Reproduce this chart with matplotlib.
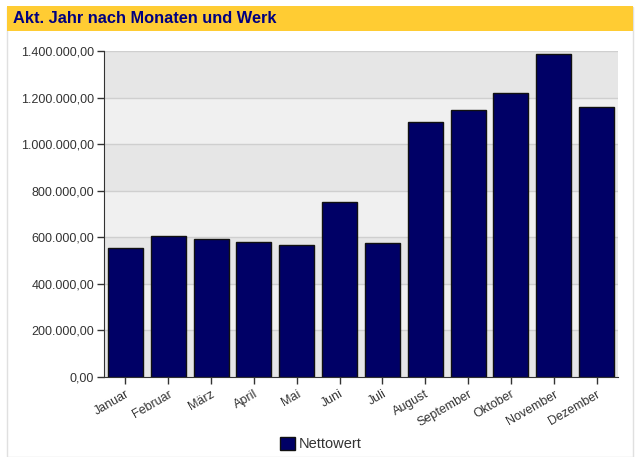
import matplotlib
matplotlib.use("Agg")
import matplotlib.pyplot as plt
import matplotlib.patches as mpatches
from matplotlib.ticker import FuncFormatter

months = ["Januar", "Februar", "März", "April", "Mai", "Juni", "Juli",
          "August", "September", "Oktober", "November", "Dezember"]
nettowert = [555300, 605500, 591300, 581000, 565600, 751500, 574200,
             1096400, 1146600, 1220900, 1385800, 1160800]
yticks = [0, 200000, 400000, 600000, 800000, 1000000, 1200000, 1400000]
title = "Akt. Jahr nach Monaten und Werk"
legend_label = "Nettowert"

plt.rcParams['font.family'] = ['Liberation Sans', 'DejaVu Sans']

fig = plt.figure(figsize=(6.35, 4.57), dpi=100)
fig.patch.set_facecolor('white')

# outer panel border
fig.patches.append(mpatches.Rectangle((7/635, 0), 626/635, 1 - 7/457, transform=fig.transFigure,
                                      facecolor='none', edgecolor='#e0e0e0', lw=1))
# title banner
fig.patches.append(mpatches.Rectangle((7/635, 1 - 31/457), 626/635, 25/457, transform=fig.transFigure,
                                      facecolor='#FFCC33', edgecolor='none'))
fig.text(13/635, 1 - 18.5/457, title, color='#000080', fontsize=11.8, fontweight='bold',
         va='center', ha='left')

ax = fig.add_axes([104/635, 1 - 377/457, 514/635, 326/457])
ax.set_facecolor('#f0f0f0')
ax.set_ylim(0, 1400000)
ax.set_xlim(-0.5, len(months) - 0.5)

# alternating bands
for i in range(len(yticks) - 1):
    if i % 2 == 0:
        ax.axhspan(yticks[i], yticks[i + 1], color='#e6e6e6', zorder=0, lw=0)
for t in yticks[1:]:
    ax.axhline(t, color='#cfcfcf', lw=1, zorder=1)

x = list(range(len(months)))
ax.bar(x, nettowert, width=0.82, color='#000066', edgecolor='#111111', linewidth=1, zorder=3)

ax.set_yticks(yticks)
ax.yaxis.set_major_formatter(FuncFormatter(
    lambda v, p: f"{v:,.2f}".replace(",", "X").replace(".", ",").replace("X", ".")))
ax.set_xticks(x)
ax.set_xticklabels(months, rotation=30, ha='right', rotation_mode='anchor')

for s in ['top', 'right']:
    ax.spines[s].set_visible(False)
ax.spines['left'].set_color('#333333')
ax.spines['bottom'].set_color('#333333')
ax.tick_params(axis='y', length=5, width=1, color='#333333', labelsize=9, labelcolor='#333333', pad=2)
ax.tick_params(axis='x', length=5, width=1, color='#333333', labelsize=9, labelcolor='#333333', pad=3)

handle = mpatches.Patch(facecolor='#000066', edgecolor='#111111', label=legend_label)
fig.legend(handles=[handle], loc='center', bbox_to_anchor=(321/635, 1 - 444/457), frameon=False,
           fontsize=10.5, handlelength=1.0, handleheight=1.0, handletextpad=0.25, labelcolor='#333333')

fig.savefig("out.png", dpi=100)
